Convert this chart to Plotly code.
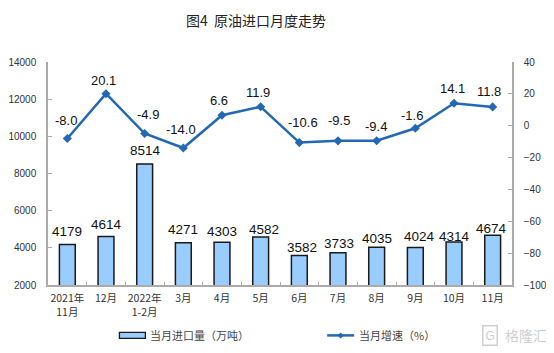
import plotly.graph_objects as go

categories = ["2021年<br>11月", "12月", "2022年<br>1-2月", "3月", "4月", "5月", "6月", "7月", "8月", "9月", "10月", "11月"]
imports = [4179, 4614, 8514, 4271, 4303, 4582, 3582, 3733, 4035, 4024, 4314, 4674]
growth = [-8.0, 20.1, -4.9, -14.0, 6.6, 11.9, -10.6, -9.5, -9.4, -1.6, 14.1, 11.8]
growth_labels = ["-8.0", "20.1", "-4.9", "-14.0", "6.6", "11.9", "-10.6", "-9.5", "-9.4", "-1.6", "14.1", "11.8"]
left_ticks = [2000, 4000, 6000, 8000, 10000, 12000, 14000]
right_ticks = [-100, -80, -60, -40, -20, 0, 20, 40]

# label offsets in pixels from the mark they belong to
line_dx = [-1, -3, 3, -2, -3, -3, 4, 1, -1, -3, -2, -4]
line_dy = [18, 13, 19, 19, 15, 14, 20, 20, 14, 13, 15, 15]
bar_dx = [0, 0, 1, 0, 0, 3, 3, 1, 0, 4, 0, -1]
bar_dy = [13, 12, 13, 13, 11, 8, 8, 9, 9, 11, 6, 7]

NUM = "Liberation Sans, Arial, sans-serif"
CJK = "Noto Sans CJK SC, sans-serif"
W, H = 546, 345  # the page adds an 8px body margin
L, R, T, B = 39.5, 42, 54, 67.5


def px(x):
    return (x - 8 - L) / (W - L - R)


def py(y):
    return 1 - (y - 8 - T) / (H - T - B)


fig = go.Figure()
fig.add_trace(go.Bar(
    x=categories, y=imports, name="当月进口量（万吨）", showlegend=False,
    marker=dict(color="#99CCFF", line=dict(color="#1a1a1a", width=1.5)),
    width=0.41, cliponaxis=False,
))
fig.add_trace(go.Scatter(
    x=categories, y=growth, name="当月增速（%）", yaxis="y2", showlegend=False,
    mode="lines+markers",
    line=dict(color="#2268B4", width=2.5),
    marker=dict(symbol="diamond", size=7, color="#2268B4"), cliponaxis=False,
))

annotations = [
    dict(text=t, x=c, y=g, xref="x", yref="y2", xshift=dx, yshift=dy, showarrow=False,
         xanchor="center", yanchor="middle", font=dict(family=NUM, size=13, color="#111"))
    for c, g, t, dx, dy in zip(categories, growth, growth_labels, line_dx, line_dy)
]
annotations += [
    dict(text=str(v), x=c, y=v, xref="x", yref="y", xshift=dx, yshift=dy, showarrow=False,
         xanchor="center", yanchor="middle", font=dict(family=NUM, size=13.5, color="#111"))
    for c, v, dx, dy in zip(categories, imports, bar_dx, bar_dy)
]
legend_font = dict(family=CJK, size=11, color="#444")
annotations += [
    dict(text="当月进口量（万吨）", xref="paper", yref="paper", x=px(148), y=py(336), xanchor="left",
         yanchor="middle", showarrow=False, font=legend_font),
    dict(text="当月增速（%）", xref="paper", yref="paper", x=px(357), y=py(336), xanchor="left",
         yanchor="middle", showarrow=False, font=legend_font),
    dict(text="G", xref="paper", yref="paper", x=px(490), y=py(336), xanchor="center", yanchor="middle",
         showarrow=False, font=dict(family=NUM, size=12, color="#cfcfcf"), bordercolor="#cfcfcf",
         borderwidth=1.5, borderpad=2),
    dict(text="格隆汇", xref="paper", yref="paper", x=px(549), y=py(336), xanchor="right", yanchor="middle",
         showarrow=False, font=dict(family=CJK, size=14, color="#cfcfcf")),
]
shapes = [
    dict(type="rect", xref="paper", yref="paper", x0=px(119), x1=px(145), y0=py(339), y1=py(333),
         fillcolor="#99CCFF", line=dict(color="#1a1a1a", width=1.3)),
    dict(type="line", xref="paper", yref="paper", x0=px(327), x1=px(354), y0=py(336), y1=py(336),
         line=dict(color="#2268B4", width=2.5)),
    dict(type="path", xref="paper", yref="paper", fillcolor="#2268B4", line=dict(width=0),
         path=f"M {px(337.5)} {py(336)} L {px(340.5)} {py(333)} L {px(343.5)} {py(336)} L {px(340.5)} {py(339)} Z"),
]

fig.update_layout(
    width=W, height=H, autosize=False,
    margin=dict(l=L, r=R, t=T, b=B, autoexpand=False),
    paper_bgcolor="white", plot_bgcolor="white",
    font=dict(family=CJK, size=10, color="#333"),
    title=dict(text="图4  原油进口月度走势", x=(256 - 8) / W, xanchor="center", y=1 - (21 - 8) / H, yanchor="middle",
               font=dict(family=CJK, size=14, color="#222")),
    bargap=0.59, showlegend=False,
    annotations=annotations, shapes=shapes,
    xaxis=dict(type="category", categoryorder="array", categoryarray=categories, tickson="boundaries",
               range=[-0.5, 11.5], ticks="inside", ticklen=3, tickcolor="#aaa", showline=True, linecolor="#aaa",
               linewidth=1.5, showgrid=False, tickangle=0, ticklabelstandoff=3,
               tickfont=dict(family=CJK, size=10.5, color="#333")),
    yaxis=dict(range=[2000, 14000], tickvals=left_ticks, tickformat="d", ticks="inside", ticklen=4, tickcolor="#aaa",
               showline=True, linecolor="#aaa", linewidth=1.5, showgrid=False, zeroline=False, ticklabelstandoff=8,
               tickfont=dict(family=NUM, size=10, color="#333")),
    yaxis2=dict(range=[-100, 40], tickvals=right_ticks, overlaying="y", side="right", ticks="inside",
                ticklen=4, tickcolor="#aaa", showline=True, linecolor="#aaa", linewidth=1.5, ticklabelstandoff=8,
                showgrid=False, zeroline=False, tickfont=dict(family=NUM, size=10, color="#333")),
)
fig.write_html("out.html")
